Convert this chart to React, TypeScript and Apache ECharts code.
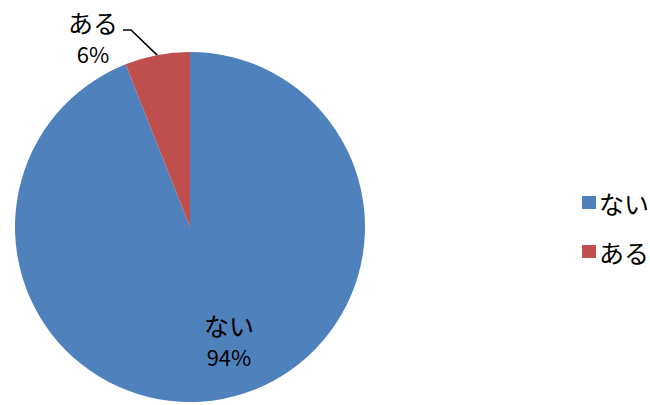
import React, { useEffect, useRef } from "react";
import * as echarts from "echarts";

const categories = ["ない", "ある"];
const values = [94, 6];
const colors = ["#4F81BD", "#C0504D"];

export default function App() {
  const ref = useRef<HTMLDivElement>(null);
  useEffect(() => {
    const chart = echarts.init(ref.current!, null, { renderer: "svg" });
    const font = "'Noto Sans CJK JP', 'Noto Sans', sans-serif";
    const rich = {
      s: { fontSize: 10, lineHeight: 10, width: 60, align: "center" },
      a: { fontSize: 25, lineHeight: 32, color: "#000", fontFamily: font, align: "center" },
      p: { fontSize: 22, lineHeight: 30, color: "#000", fontFamily: font, align: "center" },
    };
    chart.setOption({
      animation: false,
      backgroundColor: "#ffffff",
      legend: {
        orient: "vertical",
        left: 577,
        top: 185,
        itemWidth: 14,
        itemHeight: 13,
        itemGap: 24,
        icon: "rect",
        data: categories,
        textStyle: { fontSize: 25, color: "#000", fontFamily: font, padding: [0, 0, 0, -2] },
      },
      series: [
        {
          type: "pie",
          center: [190, 227],
          radius: 175,
          startAngle: 90,
          clockwise: true,
          data: categories.map((c, i) => ({
            name: c,
            value: values[i],
            itemStyle: { color: colors[i] },
            label:
              i === 0
                ? { position: "inside", formatter: "{a|{b}}\n{p|{d}%}" }
                : { position: "outside", formatter: "{s| }\n{a|{b}}\n{p|{d}%}" },
            labelLine: i === 0 ? { show: false } : { show: true, length: 12, length2: 8 },
          })),
          label: {
            show: true,
            color: "#000",
            fontFamily: font,
            align: "center",
            rich,
          },
          labelLine: { lineStyle: { color: "#000", width: 1.5 } },
          labelLayout: (params: any) => {
            if (params.dataIndex === 0) return { x: 229, y: 340, align: "center", verticalAlign: "middle" };
            return { x: 93, y: 32, align: "center", verticalAlign: "middle" };
          },
        },
      ],
    });
    return () => chart.dispose();
  }, []);
  return <div ref={ref} style={{ position: "fixed", left: 0, top: 0, width: 650, height: 405 }} />;
}
